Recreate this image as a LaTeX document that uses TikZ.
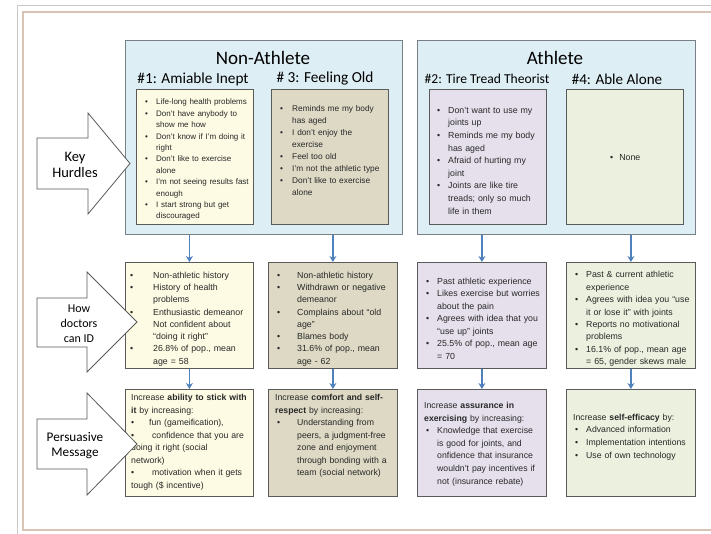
\documentclass[tikz,border=0pt]{standalone}
\usepackage{fontspec}
\setmainfont{Liberation Sans}
\newfontfamily\calfont{Carlito}
\usetikzlibrary{arrows.meta,shadows}
\definecolor{panelfill}{RGB}{222,238,245}
\definecolor{panelline}{RGB}{120,128,132}
\definecolor{boxline}{RGB}{90,90,90}
\definecolor{cyel}{RGB}{253,251,227}
\definecolor{ctan}{RGB}{221,217,196}
\definecolor{clav}{RGB}{229,224,236}
\definecolor{cgrn}{RGB}{235,241,222}
\definecolor{arrblue}{RGB}{79,129,189}
\definecolor{framegray}{RGB}{200,200,200}
\definecolor{framebrown}{RGB}{217,195,181}
\definecolor{txtgray}{RGB}{40,40,40}
% bullet item: #1 = indent of text from node edge, #2 = bullet offset from node edge
\newcommand\bul[3][0pt]{\par\noindent\leftskip=#2\relax\hskip-#2\hskip#1\hbox to \dimexpr#2-#1\relax{\textbullet\hfil}#3}
\newcommand\ind[2]{\par\noindent\leftskip=#1\relax #2}
\newcommand\bulx[2]{\par\noindent\leftskip=0pt\relax\hbox to #1{\textbullet\hfil}#2}
\newcommand\fs[2]{\fontsize{#1}{#2}\selectfont\parskip=0pt}
\newcommand\nl{\newline}
\begin{document}
\begin{tikzpicture}[x=1pt,y=-1pt,
  panel/.style={draw=panelline,fill=panelfill,line width=0.9pt,anchor=north west,inner sep=0pt},
  box/.style={draw=boxline,line width=0.8pt,anchor=north west,inner sep=0pt,
    drop shadow={shadow xshift=1pt,shadow yshift=-1pt,opacity=0.35,fill=gray}},
  txt/.style={anchor=west,inner sep=0pt,text=txtgray},
  head/.style={inner sep=0pt,text=black},
  blockarrow/.style={draw=boxline,fill=white,line width=0.8pt,line join=miter},
  flow/.style={draw=arrblue,line width=1.4pt,-{Stealth[length=6pt,width=7pt]}},
  lab/.style={align=center,inner sep=0pt,text=black}
]
\useasboundingbox (0,0) rectangle (711,534);
\fill[white] (0,0) rectangle (711,534);
% frames
\draw[framegray,line width=0.8pt] (17,534) -- (17,5) -- (711,5);
\draw[framebrown,line width=1.2pt] (711,12) -- (23,12) -- (23,530) -- (711,530);

% panels
\node[panel,minimum width=277pt,minimum height=194pt] (pna) at (125,40) {};
\node[panel,minimum width=278pt,minimum height=194pt] (pa) at (417,40) {};
\node[head,font=\calfont\fontsize{19}{22}\selectfont] (tna) at (263,58) {Non-Athlete};
\node[head,font=\calfont\fontsize{19}{22}\selectfont] (ta) at (555,58) {Athlete};
\node[head,font=\calfont\fontsize{15.3}{18}\selectfont] (s1) at (193,79) {\#1: Amiable Inept};
\node[head,font=\calfont\fontsize{15.3}{18}\selectfont] (s3) at (325,79) {\# 3: Feeling Old};
\node[head,font=\calfont\fontsize{13.6}{16}\selectfont] (s2) at (487,79) {\#2: Tire Tread Theorist};
\node[head,font=\calfont\fontsize{15.1}{18}\selectfont] (s4) at (617,79) {\#4: Able Alone};

% row 1 boxes
\node[box,fill=cyel,minimum width=117pt,minimum height=135pt] (a1) at (136,89) {};
\node[box,fill=ctan,minimum width=117pt,minimum height=135pt] (a3) at (271,89) {};
\node[box,fill=clav,minimum width=117pt,minimum height=135pt] (a2) at (429,89) {};
\node[box,fill=cgrn,minimum width=117pt,minimum height=135pt] (a4) at (566,89) {};

\node[txt,text width=108pt,font=\fs{8}{11.4}] (ta1) at (145,157) {%
\bul{11pt}{Life-long health problems}
\bul{11pt}{Don’t have anybody to\nl show me how}
\bul{11pt}{Don’t know if I’m doing it\nl right}
\bul{11pt}{Don’t like to exercise\nl alone}
\bul{11pt}{I’m not seeing results fast\nl enough}
\bul{11pt}{I start strong but get\nl discouraged}\par};
\node[txt,text width=108pt,font=\fs{8.3}{12}] (ta3) at (280,148) {%
\bul{12pt}{Reminds me my body\nl has aged}
\bul{12pt}{I don’t enjoy the\nl exercise}
\bul{12pt}{Feel too old}
\bul{12pt}{I’m not the athletic type}
\bul{12pt}{Don’t like to exercise\nl alone}\par};
\node[txt,text width=108pt,font=\fs{8.8}{12.6}] (ta2) at (437,157.5) {%
\bul{11pt}{Don’t want to use my\nl joints up}
\bul{11pt}{Reminds me my body\nl has aged}
\bul{11pt}{Afraid of hurting my\nl joint}
\bul{11pt}{Joints are like tire\nl treads; only so much\nl life in them}\par};
\node[txt,font=\fs{8.8}{12.6}] (ta4) at (610,158) {\textbullet\hspace{6pt}None};

% row 2 boxes
\node[box,fill=cyel,minimum width=128pt,minimum height=106pt] (b1) at (125,262) {};
\node[box,fill=ctan,minimum width=129pt,minimum height=106pt] (b3) at (268,262) {};
\node[box,fill=clav,minimum width=129pt,minimum height=106pt] (b2) at (417,262) {};
\node[box,fill=cgrn,minimum width=129pt,minimum height=106pt] (b4) at (566,262) {};

\node[txt,text width=124pt,font=\fs{8.8}{12.3}] (tb1) at (130,316) {%
\bul{23pt}{Non-athletic history}
\bul{23pt}{History of health\nl problems}
\bul{23pt}{Enthusiastic demeanor}
\ind{23pt}{Not confident about\nl “doing it right”}
\bul{23pt}{26.8\% of pop., mean\nl age = 58}\par};
\node[txt,text width=124pt,font=\fs{8.8}{12.3}] (tb3) at (277,316) {%
\bul{20pt}{Non-athletic history}
\bul{20pt}{Withdrawn or negative\nl demeanor}
\bul{20pt}{Complains about “old\nl age”}
\bul{20pt}{Blames body}
\bul{20pt}{31.6\% of pop., mean\nl age - 62}\par};
\node[txt,text width=124pt,font=\fs{8.8}{12.5}] (tb2) at (426,315.5) {%
\bul{11pt}{Past athletic experience}
\bul{11pt}{Likes exercise but worries\nl about the pain}
\bul{11pt}{Agrees with idea that you\nl “use up” joints}
\bul{11pt}{25.5\% of pop., mean age\nl = 70}\par};
\node[txt,text width=124pt,font=\fs{8.8}{12.4}] (tb4) at (575,316) {%
\bul{11pt}{Past \& current athletic\nl experience}
\bul{11pt}{Agrees with idea you “use\nl it or lose it” with joints}
\bul{11pt}{Reports no motivational\nl problems}
\bul{11pt}{16.1\% of pop., mean age\nl = 65, gender skews male}\par};

% row 3 boxes
\node[box,fill=cyel,minimum width=128pt,minimum height=107pt] (c1) at (125,389) {};
\node[box,fill=ctan,minimum width=129pt,minimum height=107pt] (c3) at (268,389) {};
\node[box,fill=clav,minimum width=129pt,minimum height=107pt] (c2) at (417,389) {};
\node[box,fill=cgrn,minimum width=129pt,minimum height=107pt] (c4) at (566,389) {};

\node[txt,text width=124pt,font=\fs{8.7}{12.5}] (tc1) at (131,442) {%
\noindent Increase \textbf{ability to stick with}\nl\textbf{it} by increasing:
\bulx{18pt}{fun (gameification),}
\bulx{18pt}{\ confidence that you are\nl doing it right (social\nl network)}
\bulx{18pt}{\ motivation when it gets\nl tough (\$ incentive)}\par};
\node[txt,text width=124pt,font=\fs{8.7}{12.5}] (tc3) at (275,436) {%
\noindent Increase \textbf{comfort and self-}\nl\textbf{respect} by increasing:
\bul[2pt]{22pt}{Understanding from\nl peers, a judgment-free\nl zone and enjoyment\nl through bonding with a\nl team (social network)}\par};
\node[txt,text width=124pt,font=\fs{8.7}{12.6}] (tc2) at (424,444) {%
\noindent Increase \textbf{assurance in}\nl\textbf{exercising} by increasing:
\bul[2pt]{13pt}{Knowledge that exercise\nl is good for joints, and\nl onfidence that insurance\nl wouldn’t pay incentives if\nl not (insurance rebate)}\par};
\node[txt,text width=124pt,font=\fs{8.7}{12.6}] (tc4) at (573,437) {%
\noindent Increase \textbf{self-efficacy} by:
\bul[2pt]{13pt}{Advanced information}
\bul[2pt]{13pt}{Implementation intentions}
\bul[2pt]{13pt}{Use of own technology}\par};

% flow arrows
\draw[flow] (pna.south -| b1.north) -- (b1.north);
\draw[flow] (pna.south -| b3.north) -- (b3.north);
\draw[flow] (pa.south -| b2.north) -- (b2.north);
\draw[flow] (pa.south -| b4.north) -- (b4.north);
\draw[flow] (b1.south) -- (c1.north);
\draw[flow] (b3.south) -- (c3.north);
\draw[flow] (b2.south) -- (c2.north);
\draw[flow] (b4.south) -- (c4.north);

% block arrows
\draw[blockarrow] (37,138) -- (88,138) -- (88,113) -- (130,163.5) -- (88,214) -- (88,189) -- (37,189) -- cycle;
\node[lab,font=\calfont\fontsize{14.5}{16.5}\selectfont] (lkh) at (75,165) {Key\\Hurdles};
\draw[blockarrow] (37,298) -- (87,298) -- (87,272) -- (137,322) -- (87,372) -- (87,347) -- (37,347) -- cycle;
\node[lab,font=\calfont\fontsize{12}{15}\selectfont] (lhd) at (79,324) {How\\doctors\\can ID};
\draw[blockarrow] (37,419) -- (87,419) -- (87,393) -- (137,444) -- (87,495) -- (87,469) -- (37,469) -- cycle;
\node[lab,font=\calfont\fontsize{13.2}{15}\selectfont] (lpm) at (75,445.5) {Persuasive\\Message};
\end{tikzpicture}
\end{document}
